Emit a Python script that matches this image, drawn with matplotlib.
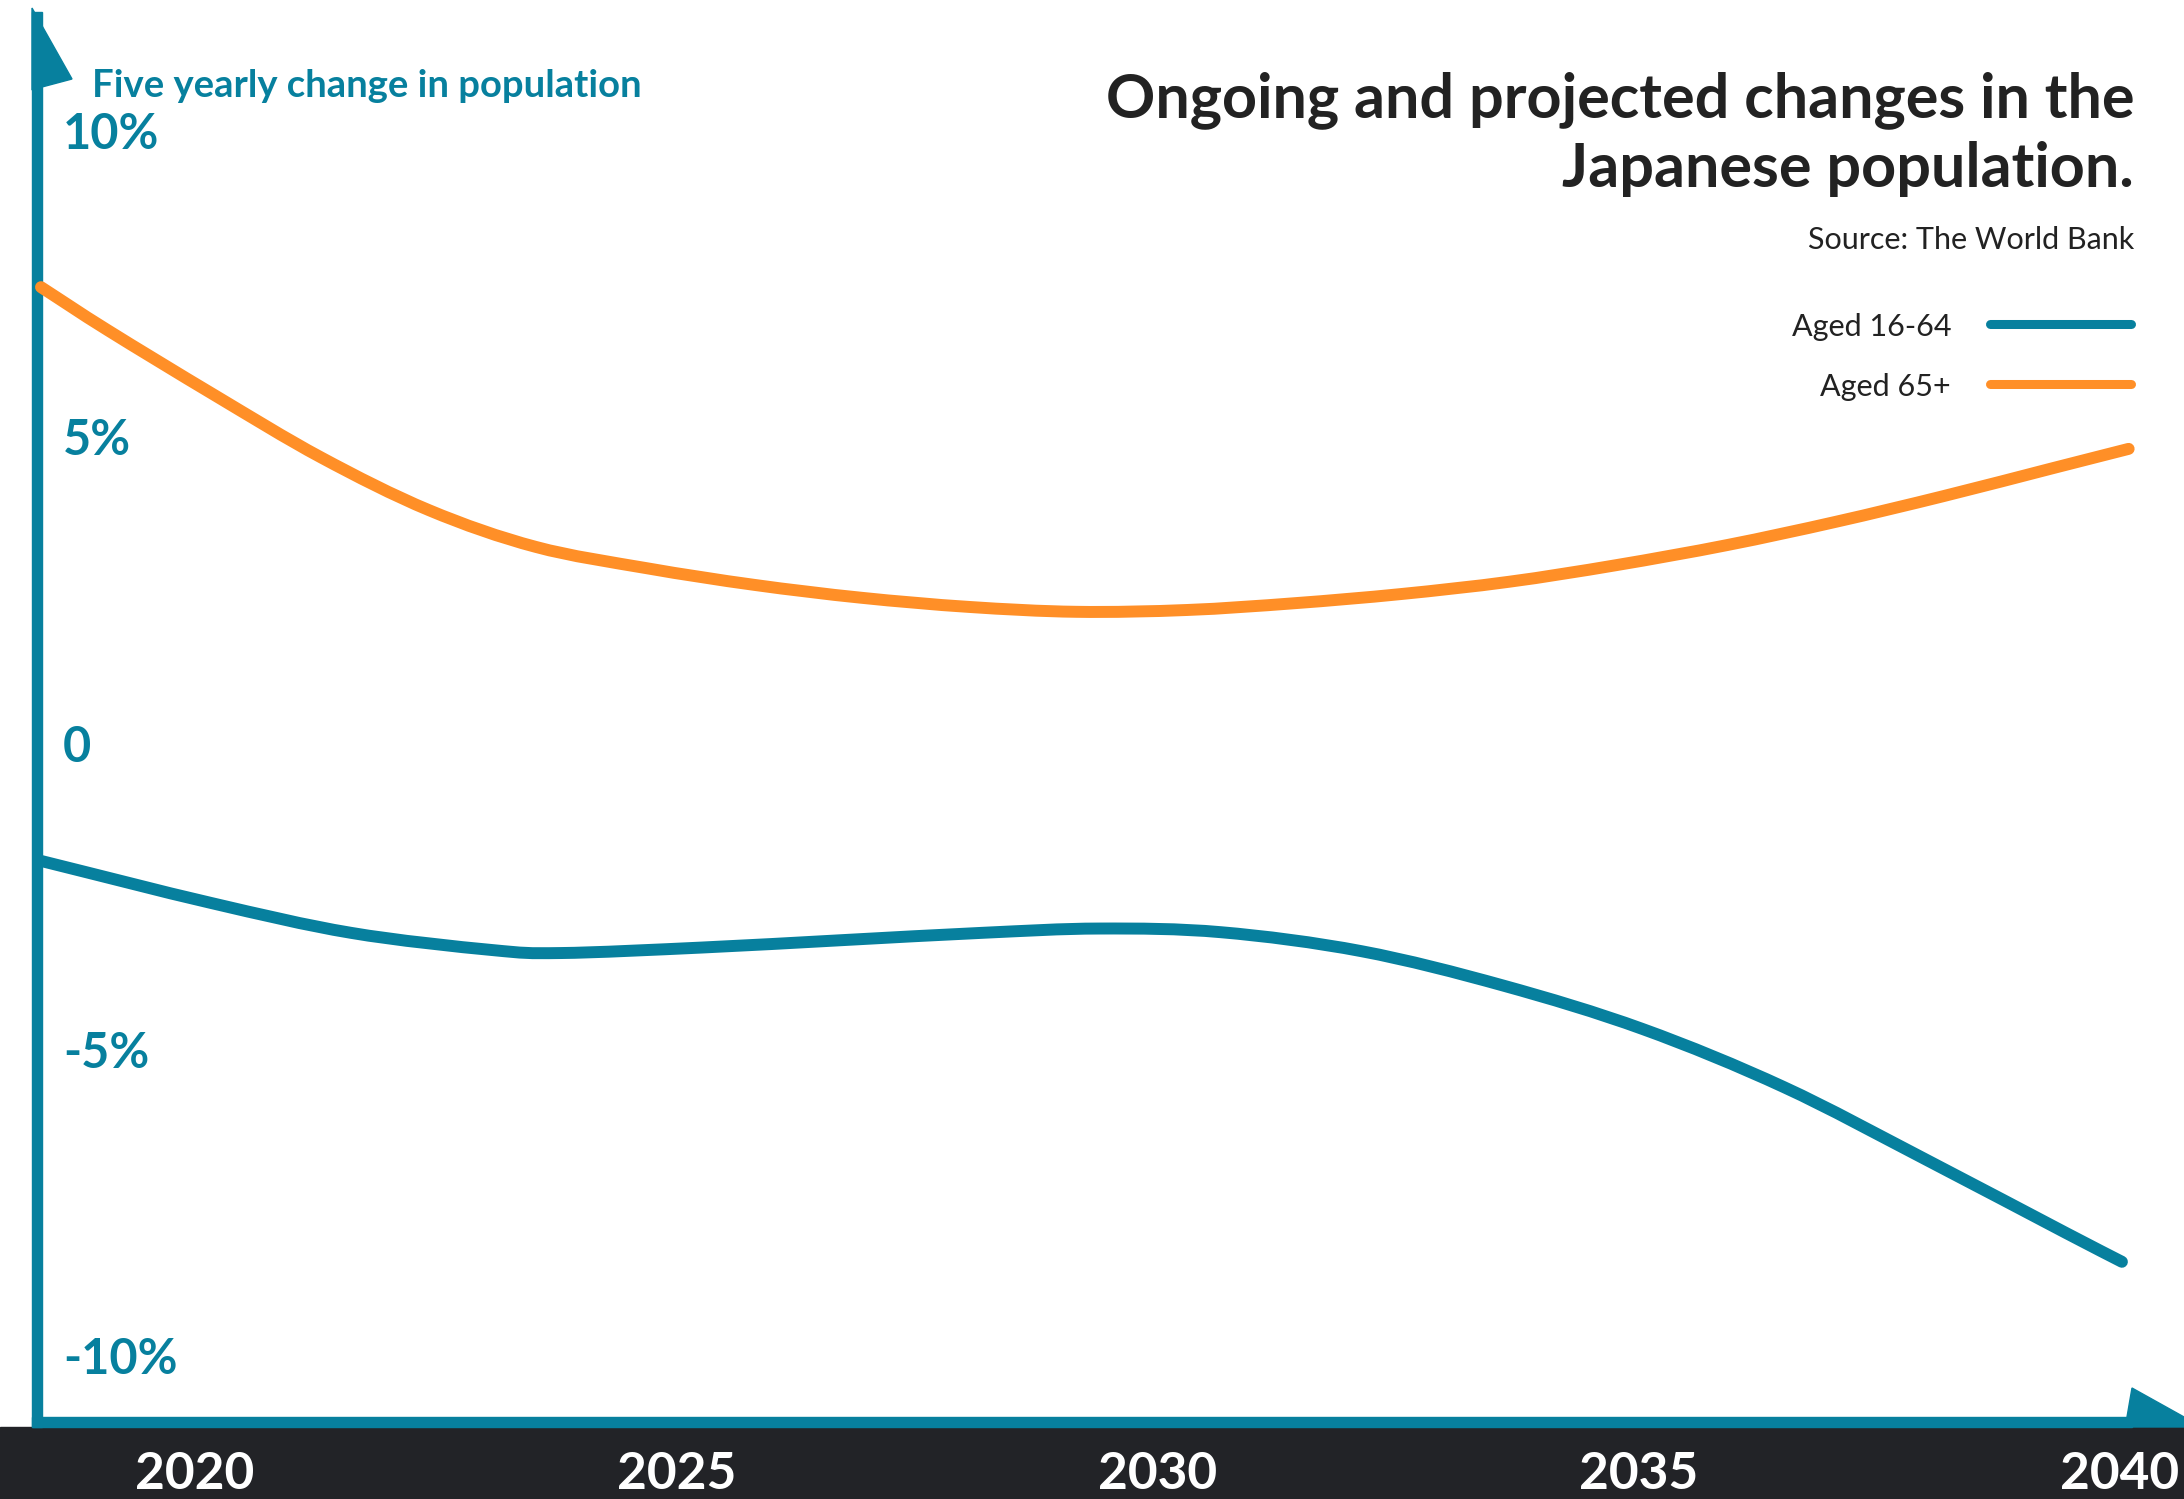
import matplotlib
matplotlib.use("Agg")
import numpy as np
import matplotlib.pyplot as plt
from matplotlib.patches import Polygon, Rectangle, PathPatch
from matplotlib.path import Path
from matplotlib.transforms import Affine2D, blended_transform_factory

# ---------------- data ----------------
years_working = [2018.41, 2020.16, 2021.62, 2023.08, 2023.80, 2025.27, 2026.72,
                 2028.18, 2029.40, 2030.66, 2032.12, 2033.59, 2035.04, 2036.51,
                 2037.97, 2039.44, 2040.02]
working_change = [-1.86, -2.54, -3.03, -3.31, -3.36, -3.27, -3.15,
                  -3.03, -2.96, -3.02, -3.33, -3.89, -4.60, -5.55,
                  -6.72, -7.93, -8.40]

years_elderly = [2018.40, 2019.09, 2020.20, 2021.31, 2022.43, 2023.54, 2024.70,
                 2025.81, 2026.92, 2028.04, 2029.16, 2030.31, 2031.42, 2032.53,
                 2033.65, 2034.76, 2035.92, 2037.05, 2038.17, 2039.29, 2040.09]
elderly_change = [7.51, 6.81, 5.75, 4.73, 3.87, 3.27, 2.92,
                  2.65, 2.44, 2.29, 2.21, 2.24, 2.35, 2.50,
                  2.70, 2.97, 3.30, 3.68, 4.10, 4.55, 4.87]

series_labels = ["Aged 16-64", "Aged 65+"]
x_ticks = [2020, 2025, 2030, 2035, 2040]
x_tick_labels = ["2020", "2025", "2030", "2035", "2040"]
y_ticks = [10, 5, 0, -5, -10]
y_tick_labels = ["10%", "5%", "0", "-5%", "-10%"]

title_lines = ["Ongoing and projected changes in the", "Japanese population."]
source = "Source: The World Bank"
y_title = "Five yearly change in population"

# ---------------- style ----------------
TEAL = "#07809E"
ORANGE = "#FF8F27"
DARK = "#222327"
TEXT = "#222222"
FONT = "Lato"

W, H = 2184, 1499
fig = plt.figure(figsize=(W / 100, H / 100), dpi=100)
fig.patch.set_facecolor("white")
ax = fig.add_axes([0, 0, 1, 1])
ax.set_xlim(2017.974, 2040.665)
ax.set_ylim(-12.272, 12.197)
ax.axis("off")

# pixel coordinates (origin top-left, y down)
pix = Affine2D().scale(1 / W, -1 / H).translate(0, 1) + fig.transFigure
x_pix_y_data = blended_transform_factory(pix, ax.transData)
x_data_y_pix = blended_transform_factory(ax.transData, pix)


def smooth_path(xs, ys):
    """Cubic Bezier path through the given points (Catmull-Rom tangents)."""
    p = np.column_stack([xs, ys]).astype(float)
    n = len(p)
    t = np.zeros_like(p)
    t[0] = p[1] - p[0]
    t[-1] = p[-1] - p[-2]
    t[1:-1] = (p[2:] - p[:-2]) / 2.0
    verts = [p[0]]
    codes = [Path.MOVETO]
    for i in range(n - 1):
        verts += [p[i] + t[i] / 3.0, p[i + 1] - t[i + 1] / 3.0, p[i + 1]]
        codes += [Path.CURVE4] * 3
    return Path(verts, codes)


# bottom dark band
ax.add_patch(Rectangle((0, 1427), W, 80, transform=pix, color=DARK, zorder=1, clip_on=False))
# axes lines
ax.add_patch(Rectangle((32, 1417), 2100, 10, transform=pix, color=TEAL, zorder=2, clip_on=False))
ax.add_patch(Rectangle((32, 12), 10, 1415, transform=pix, color=TEAL, zorder=2, clip_on=False))
# arrow heads
ax.add_patch(Polygon([(32, 8), (72, 79), (42, 87), (32, 90)], closed=True,
                     transform=pix, color=TEAL, zorder=2, clip_on=False))
ax.add_patch(Polygon([(2126, 1427), (2127, 1417), (2132, 1388), (2202, 1427)], closed=True,
                     transform=pix, color=TEAL, zorder=2, clip_on=False))

# series
for xs, ys, col in [(years_working, working_change, TEAL),
                    (years_elderly, elderly_change, ORANGE)]:
    ax.add_patch(PathPatch(smooth_path(xs, ys), fill=False, edgecolor=col, lw=8.6,
                           capstyle="round", joinstyle="round", zorder=3, clip_on=False))

# y tick labels
for v, lab in zip(y_ticks, y_tick_labels):
    ax.text(63, v, lab, transform=x_pix_y_data, ha="left", va="center",
            fontsize=35, fontweight="bold", color=TEAL, family=FONT)

# x tick labels
for v, lab in zip(x_ticks, x_tick_labels):
    ax.text(v, 1498, lab, transform=x_data_y_pix, ha="center", va="bottom",
            fontsize=37, fontweight="bold", color="white", family=FONT, clip_on=False)

# y axis title
ax.text(92, 97, y_title, transform=pix, ha="left", va="baseline",
        fontsize=27.5, fontweight="bold", color=TEAL, family=FONT)

# title and source
for line, base in zip(title_lines, [117, 187]):
    ax.text(2134, base, line, transform=pix, ha="right", va="baseline",
            fontsize=44, fontweight="bold", color=TEXT, family=FONT)
ax.text(2134, 249, source, transform=pix, ha="right", va="baseline",
        fontsize=22, fontweight="normal", color=TEXT, family=FONT)

# legend
leg_colors = [TEAL, ORANGE]
leg_y = [324, 384]
for lab, col, yy in zip(series_labels, leg_colors, leg_y):
    ax.plot([1990, 2131], [yy, yy], transform=pix, color=col, lw=6.5,
            solid_capstyle="round", zorder=3, clip_on=False)
    ax.text(1951, yy + 12, lab, transform=pix, ha="right", va="baseline",
            fontsize=22, fontweight="normal", color=TEXT, family=FONT)

fig.savefig("out.png", dpi=100, facecolor="white")
